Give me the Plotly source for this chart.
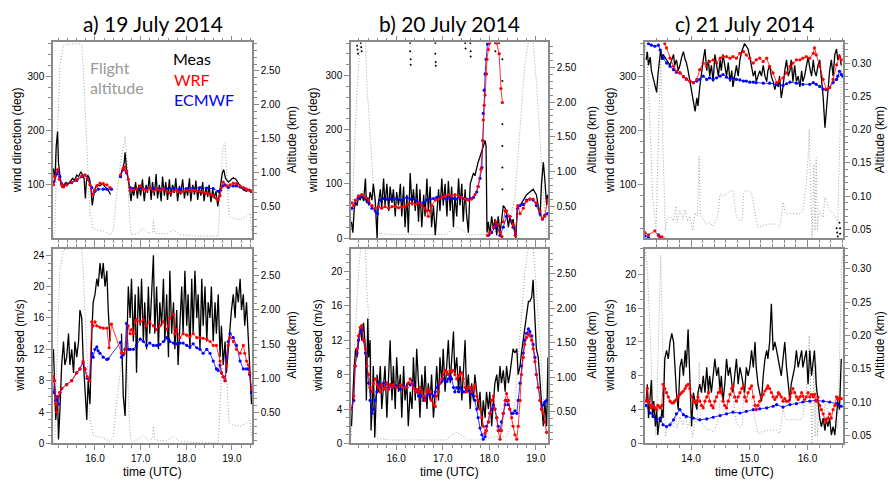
import plotly.graph_objects as go

# ---------------- DATA ----------------
# ---- a) 19 July 2014 ----
A_ALT_T = [15.09,15.12,15.18,15.23,15.31,15.49,15.67,15.71,15.74,15.82,15.89,15.96,16.04,16.18,16.33,16.40,16.47,16.58,16.66,16.71,16.75,16.79,16.91,17.06,17.17,17.26,17.28,17.31,17.57,17.72,17.86,18.30,18.70,18.74,18.80,18.85,18.90,18.94,19.03,19.18,19.32,19.39,19.43]
A_ALT = [0.05,0.15,1.6,2.58,2.88,2.9,2.9,2.88,2.58,1.36,0.39,0.17,0.15,0.13,0.08,0.15,0.64,1.22,1.53,1.12,0.39,0.08,0.09,0.17,0.10,0.12,0.3,0.1,0.09,0.15,0.08,0.06,0.06,0.64,1.36,1.44,0.88,0.35,0.32,0.30,0.35,0.40,0.15]

A_DIR_MEAS_T = [15.09,15.12,15.15,15.18,15.20,15.22,15.25,15.28,15.32,15.36,15.42,15.47,15.51,15.55,15.60,15.64,15.69,15.73,15.76,15.79,15.81,15.84,15.88,15.91,15.94,15.97,16.01,16.05,16.11,16.17,16.23,16.28,16.34,None,
                16.55,16.59,16.64,16.66,16.69,16.73,16.76,16.79,16.82,16.85,16.89,16.93,16.96,17.00,17.04,17.08,17.12,17.15,17.19,17.23,17.26,17.30,17.34,17.37,17.41,17.45,17.48,17.52,17.55,17.59,17.63,17.66,17.70,17.74,17.77,17.81,17.85,17.88,17.92,17.96,17.99,18.03,18.07,18.10,18.14,18.18,18.21,18.25,18.28,18.32,18.36,18.39,18.43,18.47,18.50,18.54,18.58,18.61,18.65,18.69,18.72,18.75,18.79,18.82,18.86,18.92,18.98,19.03,19.09,19.15,19.20,19.26,19.32,19.38,19.42]
A_DIR_MEAS = [130,105,170,198,140,125,105,95,100,104,102,108,112,108,118,115,124,118,112,75,105,118,112,95,62,80,95,100,98,102,95,92,82,None,
              115,125,140,160,130,110,90,70,95,80,105,75,100,80,110,70,100,85,115,72,105,80,120,75,100,70,115,80,105,72,110,78,100,85,112,70,98,82,110,75,95,80,112,70,100,82,108,72,95,80,105,70,95,78,100,68,92,75,88,60,80,100,122,128,112,105,110,113,110,102,95,90,88,92,85]

A_DIR_WRF_T = [15.09,15.12,15.18,15.22,15.27,15.31,15.38,15.49,15.60,15.71,15.78,15.83,15.89,15.95,15.99,16.04,16.11,16.18,16.26,16.33,None,
               16.56,16.62,16.66,16.69,16.73,16.77,16.84,16.91,16.99,17.06,17.13,17.20,17.28,17.35,17.42,17.50,17.57,17.64,17.72,17.79,17.86,17.93,18.01,18.08,18.15,18.23,18.30,18.37,18.45,18.52,18.59,18.66,18.70,18.74,18.77,18.81,18.88,18.96,19.03,19.10,19.18,19.25,19.32,19.39,19.43]
A_DIR_WRF = [100,115,128,110,100,96,100,105,110,116,118,112,100,82,90,98,103,102,100,95,None,
             118,130,133,125,110,90,90,92,98,92,90,94,88,92,90,92,88,85,88,90,86,88,90,88,90,88,88,86,85,83,80,75,72,80,95,105,98,100,103,102,98,95,92,90,88]

A_DIR_ECM_T = [15.09,15.16,15.20,15.23,15.27,15.31,15.38,15.49,15.60,15.71,15.78,15.85,15.93,16.00,16.07,16.18,16.26,16.36,None,
               16.56,16.62,16.69,16.77,16.84,16.99,17.13,17.28,17.42,17.57,17.72,17.86,18.01,18.15,18.30,18.45,18.59,18.70,18.75,18.80,18.85,18.92,19.03,19.10,19.18,19.28,19.39,19.43]
A_DIR_ECM = [105,120,125,115,102,98,100,104,108,115,118,110,95,88,92,92,92,92,None,
             115,128,122,95,93,95,93,94,92,93,94,92,93,94,95,94,93,88,90,98,100,95,98,98,96,93,90,88]

A_SPD_MEAS_T = [15.09,15.11,15.14,15.18,15.20,15.23,15.27,15.31,15.34,15.38,15.42,15.45,15.49,15.53,15.56,15.60,15.64,15.67,15.71,15.74,15.78,15.82,15.85,15.89,15.93,15.96,16.00,16.04,16.07,16.11,16.15,16.18,16.22,16.26,16.29,16.33,None,
                16.58,16.62,16.66,16.69,16.73,16.77,16.80,16.84,16.88,16.91,16.95,16.99,17.02,17.06,17.09,17.13,17.17,17.20,17.24,17.28,17.31,17.35,17.39,17.42,17.46,17.50,17.53,17.57,17.61,17.64,17.68,17.72,17.75,17.79,17.82,17.86,17.90,17.93,17.97,18.01,18.04,18.08,18.12,18.15,18.19,18.23,18.26,18.30,18.34,18.37,18.41,18.45,18.48,18.52,18.55,18.59,18.63,18.66,18.70,18.74,18.77,18.81,18.85,18.88,18.92,18.96,18.99,19.03,19.07,19.10,19.14,19.18,19.21,19.25,19.28,19.32,19.36,19.39,19.43]
A_SPD_MEAS = [12,8,3,6,0.5,4,10,13,10,11,14,10,12,9,13,11,13,17,16,11,7,3,8,5,14,18,19,21,20,23,21,23,20,22,17,13,None,
              14,6,3.5,12,20,16,21,13,19,9,20,15,21,13,18,12,20,14,19,24,14,20,12,18,15,21,13,19,11,22,14,18,12,17,10,16,20,14,22,15,19,12,21,14,22,16,19,12,21,15,20,13,18,16,20,13,18,14,19,11,15,10,13,9,12,15,17,19,16,20,18,21,17,19,15,18,13,10,5]

A_SPD_WRF_T = [15.09,15.11,15.14,15.16,15.20,15.23,15.27,15.38,15.49,15.60,15.67,15.74,15.78,15.83,15.88,15.93,15.96,16.00,16.04,16.11,16.18,16.26,16.31,16.36,16.58,16.64,16.68,16.73,16.77,16.80,16.84,16.88,16.91,16.99,17.06,17.13,17.20,17.28,17.35,17.42,17.50,17.57,17.61,17.64,17.72,17.75,17.79,17.86,17.93,18.01,18.08,18.15,18.23,18.30,18.37,18.45,18.52,18.59,18.66,18.74,18.77,18.81,18.85,18.88,18.92,18.96,19.03,19.10,19.18,19.25,19.28,19.32,19.36,19.39,19.43]
A_SPD_WRF = [8.5,8,5,4,6,6.5,7,7.5,8,9,9.5,10.5,9.5,8.5,8,15.5,15,15.5,15,14.8,14.7,14.7,12.2,15.2,11.5,11.5,12,15,14,14.5,14,15.5,15.8,15.5,15.8,15,15.5,15,14.5,15,15.5,14.5,15,16,16.5,14,14.5,13.5,14,13.8,13.6,14,13.5,13.5,13.4,13.3,13,12.5,12.5,10.5,9,8.5,8,10,12.5,13.5,13,12,11.5,12.5,11.5,10.5,10,9,7]

A_SPD_ECM_T = [15.09,15.11,15.14,15.18,15.20,15.23,15.27,15.38,15.49,15.60,15.67,15.74,15.78,15.83,15.88,15.93,15.96,16.00,16.04,16.07,16.11,16.18,16.26,16.29,16.56,16.58,16.62,16.66,16.69,16.73,16.77,16.84,16.91,16.99,17.06,17.13,17.20,17.28,17.35,17.42,17.50,17.57,17.61,17.64,17.72,17.79,17.86,17.93,18.01,18.08,18.15,18.23,18.30,18.37,18.45,18.52,18.59,18.66,18.70,18.74,18.77,18.81,18.85,18.88,18.92,18.96,19.03,19.10,19.18,19.25,19.32,19.36,19.39,19.43]
A_SPD_ECM = [6.5,8,5.5,6,5,6.5,7,7.5,8,9,9.5,10.3,9.5,8.3,8,11.5,11,12,12.3,11.8,11.5,11,10.7,10.8,12.9,11,11.3,12,15.3,12,12,12,12.5,13.3,13,12.5,12.8,12.5,12.5,12.6,13,13.5,13.3,13,12.8,12.7,12.8,12.8,12.5,12.3,12.7,12.2,12,11.5,12,11.5,10.5,9.5,9.3,10,9,8.5,8,11,13,14,13.5,12.5,10.5,9.5,9.5,9.5,8.8,6.5]

# ---- b) 20 July 2014 ----
B_ALT_T = [15.04,15.12,15.19,15.24,15.34,15.37,15.48,15.55,15.60,15.87,16.59,17.09,17.16,17.30,17.44,17.51,17.94,18.01,18.37,18.44,18.55,18.66,18.76,18.84,18.94,19.01,19.12,19.19,19.24]
B_ALT = [0.16,1.58,2.52,2.88,2.88,2.29,1.1,0.4,0.11,0.09,0.09,0.09,0.15,0.2,0.15,0.09,0.09,0.13,0.14,0.25,0.63,1.58,2.52,2.88,2.88,2.29,1.1,0.4,0.09]

B_DIR_MEAS_T = [15.04,15.07,15.10,15.13,15.16,15.19,15.23,15.26,15.30,15.34,15.36,15.39,15.41,15.44,15.48,15.51,15.55,15.57,15.59,15.61,15.66,15.69,15.73,15.76,15.80,15.84,15.87,15.91,15.94,15.98,16.01,16.05,16.09,16.12,16.16,16.19,16.23,16.26,16.30,16.34,16.37,16.41,16.44,16.48,16.51,16.55,16.59,16.62,16.66,16.69,16.73,16.76,16.80,16.84,16.87,16.91,16.94,16.98,17.01,17.05,17.09,17.12,17.16,17.19,17.23,17.26,17.30,17.34,17.37,17.41,17.44,17.48,17.51,17.55,17.59,17.62,17.66,17.69,17.73,17.76,17.80,17.84,17.87,17.91,17.93,17.95,17.98,18.01,18.05,18.09,18.12,18.16,18.19,18.23,18.26,18.30,18.34,18.37,18.41,18.44,18.48,18.51,18.55,18.57,18.60,18.66,18.73,18.80,18.87,18.94,19.01,19.05,19.09,19.12,19.16,19.19,19.23,19.25]
B_DIR_MEAS = [30,10,55,65,60,75,70,80,68,110,65,75,60,85,70,100,70,20,0,60,90,55,110,60,100,50,95,65,90,40,85,60,100,40,95,20,80,10,120,60,90,50,100,30,90,20,80,40,110,50,95,20,60,5,40,90,50,110,60,100,40,105,50,95,20,80,40,110,60,100,30,90,45,10,100,110,120,115,130,140,150,160,170,180,170,10,30,5,40,15,35,5,40,10,30,60,55,45,20,40,25,35,10,0,55,60,70,80,85,90,80,60,40,100,140,110,60,80]
B_DIR_MEAS_WRAP_T = [15.16,15.17,15.18,15.24,15.25,15.26,16.30,16.30,16.31,16.31,16.84,16.84,16.85,16.85,17.48,17.49,17.59,17.60,17.60,18.12,18.13,18.21,18.22,18.28,18.28,18.28,18.28,18.28,18.28,18.28]
B_DIR_MEAS_WRAP = [355,348,340,360,352,345,360,345,330,320,360,340,325,318,360,350,360,345,335,360,345,360,340,330,290,250,210,170,130,90]

B_DIR_WRF_T = [15.05,15.09,15.12,15.19,15.26,15.34,15.41,15.48,15.55,15.62,15.69,15.76,15.84,15.91,15.98,16.05,16.12,16.19,16.26,16.34,16.41,16.48,16.55,16.62,16.66,16.69,16.73,16.76,16.84,16.91,16.98,17.05,17.12,17.19,17.26,17.34,17.41,17.48,17.55,17.62,17.69,17.76,17.82,17.86,17.87,17.89,17.91,17.94,17.95,17.98,18.01,None,
               17.96,18.01,18.09,18.14,18.19,18.24,18.27,None,
               18.16,18.21,18.25,18.28,None,
               18.30,18.34,18.37,18.44,18.51,18.56,18.61,18.66,18.73,18.80,18.87,18.94,19.01,19.09,19.14,19.19,19.25]
B_DIR_WRF = [65,60,70,78,80,75,70,60,55,58,55,58,55,58,58,56,57,58,62,65,62,65,60,55,50,40,50,60,70,72,75,77,80,78,80,78,75,72,70,72,80,95,127,180,218,245,264,303,330,348,360,None,
             5,10,20,30,25,10,3,None,
             360,340,276,250,None,
             30,50,50,40,25,5,60,45,55,68,72,72,65,50,35,40,70]

B_DIR_ECM_T = [15.05,15.12,15.19,15.26,15.34,15.41,15.48,15.55,15.60,15.66,15.73,15.80,15.87,15.94,16.01,16.09,16.16,16.23,16.30,16.37,16.44,16.51,16.59,16.66,16.73,16.80,16.87,16.94,17.01,17.09,17.16,17.23,17.30,17.37,17.44,17.51,17.59,17.66,17.73,17.76,17.80,17.84,17.86,17.87,17.89,17.91,17.93,17.96,None,
               17.98,18.05,18.12,18.16,18.23,18.30,18.37,18.44,18.51,18.56,18.61,18.66,18.73,18.80,18.87,18.94,19.01,19.09,19.14,19.19,19.25]
B_DIR_ECM = [55,65,75,77,72,65,55,50,45,70,73,72,72,72,73,70,72,75,72,73,68,65,65,70,72,73,75,75,73,72,75,73,72,75,73,72,73,75,85,95,110,130,180,230,273,303,330,358,None,
             5,10,20,25,5,20,40,40,20,5,55,60,62,70,72,70,60,45,35,42,45]

B_SPD_MEAS_T = [15.04,15.07,15.10,15.13,15.16,15.19,15.23,15.26,15.30,15.34,15.36,15.39,15.41,15.44,15.46,15.49,15.51,15.54,15.56,15.59,
                15.62,15.66,15.69,15.73,15.76,15.80,15.84,15.87,15.91,15.94,15.98,16.01,16.05,16.09,16.12,16.16,16.19,16.23,16.26,16.30,16.34,16.37,16.41,16.44,16.48,16.51,16.55,16.59,16.62,16.66,16.69,16.73,16.76,16.80,16.84,16.87,16.91,16.94,16.98,17.01,17.05,17.09,17.12,17.16,17.19,17.23,17.26,17.30,17.34,17.37,17.41,17.44,17.48,17.51,17.55,17.59,17.62,17.66,17.69,17.73,17.76,17.80,17.84,17.87,17.91,17.94,17.98,18.01,18.05,18.09,18.12,18.16,18.19,18.23,18.26,18.30,18.34,18.37,18.41,18.44,18.48,18.51,18.55,18.59,18.62,18.66,18.69,18.73,18.76,18.80,18.84,18.87,18.91,18.94,18.98,19.01,19.05,19.09,19.12,19.16,19.19,19.23,19.26]
B_SPD_MEAS = [2,6,9,11,10,12,13.5,12,14,11,5,14.5,10,12,1.5,5,9,0.7,4,8,
              6,9,4,7,9,3,8,12,5,9,4,10,6,8,3,9,5,7,2,6,4,10,5,11,7,3,8,5,9,4,7,5,8,3,6,9,5,10,7,11,6,9,12,7,10,13,8,10,6,9,5,8,12,6,8,4,7,5,8,6,4,6,2,5,3,6,4,6,2,5,7,8,6,9,7,8.5,6,9,7,8,10,11,10.5,11,8,9,10.5,12,13,15,16.5,16.5,17,19,14,11,10,7,4,2,5,2,10]

B_SPD_MOD_T = [15.04,15.09,15.12,15.16,15.19,15.23,15.26,15.30,15.34,15.37,15.41,15.44,15.48,15.51,15.55,15.59,15.62,15.66,15.69,15.73,15.76,15.80,15.84,15.87,15.91,15.94,16.01,16.09,16.16,16.23,16.26,16.30,16.34,16.37,16.41,16.44,16.48,16.51,16.55,16.59,16.62,16.66,16.69,16.73,16.76,16.80,16.84,16.87,16.91,16.94,16.98,17.01,17.05,17.09,17.12,17.16,17.19,17.23,17.26,17.30,17.34,17.37,17.41,17.44,17.48,17.51,17.55,17.59,17.62,17.66,17.69,17.73,17.76,17.80,17.84,17.87,17.91,17.94,17.98,18.01,18.05,18.09,18.12,18.16,18.19,18.23,18.26,18.30,18.34,18.37,18.41,18.44,18.48,18.51,18.55,18.59,18.62,18.66,18.69,18.73,18.76,18.80,18.84,18.87,18.91,18.94,18.98,19.01,19.05,19.09,19.12,19.16,19.19,19.23]
B_SPD_WRF = [4,5.5,9,11,12.5,13.5,13.7,12,11,9,8,6.5,6,7,7.5,6.8,6.5,6,6.8,6.3,6.5,7,6.3,6.8,6.5,6.8,6.5,6.8,6.5,6.5,7,7.5,7,6.5,6,6.3,6,6.5,6,5.5,5,6,6.3,6,5,4.5,4.3,5.5,6,7,7.5,8,8.5,8.3,8,8.5,8.3,8.5,8,7.5,7.8,8,8.2,7.5,6.5,6,6.5,6.5,6,6.5,6.8,5.5,5,4,3,2,1.2,1.5,2.5,3.5,5,5.5,4,3,1.5,0.5,1.5,3.5,5,5.8,5,4,3,2,1,0.5,2,5,8,10,11.5,12.3,12.7,12.5,12,11,9.5,8,6.5,5,4,3.5,2.5,1.3]
B_SPD_ECM = [4,5,9,10.5,12,13,13.3,12,10.5,9,7,5,3.5,4,5,6,7,6.5,6.8,7,6.5,7,6.5,6.8,6.6,6.5,6.7,6.3,6.7,6.5,7,6.8,7.3,6.8,6.3,6,5.5,6,5.5,5,5.2,5.5,5.8,6,5.8,5.5,6,6.5,6.8,7,7.2,7.5,7.3,7.2,7.5,7.8,7.5,6.5,6,6.5,6,6.5,6.2,6,6,6.2,6.1,6,5.8,5.5,5,4,3,1.8,1,0.5,0.8,2,2.5,3.5,4,4.5,4,3,2,1.5,2.5,3.5,4.5,5,4.5,4,3.5,3.5,3.8,3.5,5,7,9,10.5,12,12.8,13.3,13,12.5,11.5,10,8,6.5,5,4,4.5,4.8,5]

# ---- c) 21 July 2014 ----
C_ALT_T = [13.21,13.25,13.30,13.34,13.40,13.43,13.46,13.48,13.51,13.54,13.56,13.59,13.64,13.70,13.74,13.76,13.81,13.86,13.90,13.94,13.98,14.03,14.07,14.11,14.14,14.16,14.21,14.27,14.32,14.38,14.44,14.47,14.50,14.55,14.61,14.67,14.72,14.75,14.78,14.84,14.88,14.90,14.93,14.98,15.04,15.09,15.12,15.15,15.24,15.35,15.47,15.52,15.55,15.58,15.61,15.64,15.75,15.87,15.92,15.95,15.98,16.01,16.03,16.04,16.07,16.08,16.11,16.13,16.15,16.17,16.20,16.27,16.30,16.38,16.47,16.52,16.56,16.59,16.61]
C_ALT = [0.33,0.30,0.20,0.10,0.05,0.15,0.28,0.32,0.20,0.08,0.048,0.065,0.07,0.063,0.085,0.06,0.078,0.065,0.08,0.062,0.07,0.048,0.075,0.07,0.16,0.075,0.065,0.058,0.06,0.055,0.065,0.078,0.103,0.10,0.103,0.108,0.108,0.09,0.068,0.063,0.065,0.103,0.108,0.108,0.105,0.078,0.063,0.053,0.056,0.058,0.058,0.053,0.068,0.091,0.078,0.073,0.074,0.073,0.078,0.098,0.118,0.158,0.20,0.158,0.085,0.035,0.148,0.048,0.158,0.048,0.078,0.068,0.098,0.08,0.07,0.06,0.2,0.31,0.33]

C_MEAS_T = [13.23,13.25,13.27,13.30,13.32,13.34,13.36,13.39,13.41,13.43,13.46,13.48,13.50,13.52,
            13.55,13.58,13.61,13.64,13.67,13.70,13.72,13.75,13.78,13.81,13.84,13.87,13.90,13.92,13.95,13.98,14.01,14.04,14.07,14.10,14.12,14.15,14.18,14.21,14.24,14.27,14.30,14.32,14.35,14.38,14.41,14.44,14.47,14.50,14.52,14.55,14.58,14.61,14.64,14.67,14.70,14.72,14.75,14.78,14.81,14.84,14.87,14.90,14.92,14.95,14.98,15.01,15.04,15.07,15.10,15.12,15.15,15.18,15.21,15.24,15.27,15.30,15.32,15.35,15.38,15.41,15.44,15.47,15.50,15.52,15.55,15.58,15.61,15.64,15.67,15.70,15.72,15.75,15.78,15.81,15.84,15.87,15.90,15.92,15.95,15.98,16.01,16.04,16.07,16.10,16.12,16.15,16.18,16.21,16.24,16.27,16.30,16.32,16.35,16.38,16.41,16.44,16.47,16.50,16.52,16.55,16.58]
C_DIR_MEAS = [330,345,320,335,310,300,290,280,270,300,340,350,330,340,
              335,330,325,320,330,340,320,330,310,320,335,345,330,325,310,290,270,250,235,260,245,280,310,330,350,310,330,300,320,290,340,320,300,330,310,340,320,300,325,290,310,280,300,320,300,330,345,355,360,355,350,335,320,300,310,290,300,310,300,320,300,290,310,320,300,290,275,290,280,300,260,280,310,330,300,310,330,290,320,290,300,280,310,290,300,320,335,315,300,330,310,300,320,330,300,260,205,230,270,310,330,300,340,350,330,340,320]
C_DIR_MEAS_WRAP_T = [16.50,16.51,16.52,16.55,16.56,16.56]
C_DIR_MEAS_WRAP = [20,12,5,30,20,10]
C_SPD_MEAS = [5,7,3,6,7.5,3,5,2,4,1,3,2.5,4,3,
              10,11,10,12,13,12,9,6,4,9,10,8,11,9,13.5,8,2,6,5,4,6,7,6,8,6,9,6,8,6,8,10,8,9,6,8,5,7,10,8,9,7,6,8,10,7,9,8,7,6,9,8,9,11,9,12,9,7,6,5,8,10,11,10,12,16.5,11,12,11,10,9,8,10,12,9,7,5,7,8,9,11,9,10,11,9,10,11,7,11,8,10,11,7,5,3,2,3,1.5,3,2,3,1,2,1,4,5,4,10]

C_DIR_WRF_T = [13.21,13.27,13.38,13.44,13.50,13.55,None,
               13.55,13.58,13.64,13.70,13.75,13.81,13.87,13.92,13.98,14.04,14.10,14.15,14.21,14.27,14.32,14.38,14.44,14.50,14.55,14.61,14.67,14.72,14.78,14.84,14.90,14.95,15.01,15.07,15.12,15.18,15.24,15.30,15.35,15.41,15.47,15.52,15.58,15.64,15.70,15.75,15.81,15.87,15.92,15.98,16.04,16.10,16.12,16.15,16.21,16.27,16.32,16.38,16.44,16.50,16.55,16.58]
C_DIR_WRF = [12,8,15,6,4,0,None,
             360,352,333,318,309,306,299,294,291,288,294,312,324,318,327,330,324,333,336,336,333,336,333,342,345,339,333,324,330,333,327,333,318,306,288,291,297,306,318,324,330,330,333,336,333,342,352,339,318,294,276,279,294,321,336,330]

C_DIR_ECM_T = [13.21,13.27,None,13.44,13.47,None,
               13.27,13.32,13.38,13.44,13.47,13.52,13.58,13.64,13.70,13.75,13.81,13.87,13.92,13.98,14.04,14.10,14.15,14.21,14.27,14.32,14.38,14.44,14.50,14.55,14.61,14.67,14.72,14.78,14.84,14.90,14.95,15.01,15.07,15.12,15.24,15.35,15.47,15.58,15.64,15.70,15.81,15.92,16.04,16.10,16.15,16.21,16.27,16.32,16.38,16.44,16.50,16.52,16.55,16.58,16.61]
C_DIR_ECM = [6,3,None,8,4,None,
             360,357,355,357,348,333,324,318,312,307,306,299,295,291,288,291,294,300,294,297,294,297,300,303,298,295,296,294,293,291,291,289,289,288,287,287,285,283,286,289,287,285,285,288,285,281,276,275,279,288,294,300,309,303,300]

C_SPD_WRF = [5,6.5,5,4.5,4.2,4.5,4.3,4.2,4,4.5,4.3,4.2,4.5,7,
             6.5,6,5.5,5,4.8,4.8,5,5.2,5.5,5.8,6,6.2,6.5,6.8,7,6.5,5.5,5,4.8,5,5.5,5,4.5,4.2,5,5.5,6,5,4.5,4.2,5,5.5,6,6.5,6,5,4.5,4.2,5,5.8,6.5,6.8,5.5,5,5.5,6,6.5,6.8,5.5,5,6,6.5,6.8,5.5,4.5,4,4.5,5,5.5,5.8,6.2,6.5,6.8,6.5,6,5.5,5.2,5.5,6,5.8,5.5,5,5.3,5,5,5.5,6,6.5,6,5.5,5.2,5.5,6,5.6,5.2,5.5,6,5.5,5.8,5.5,5.8,5,5.5,4.5,4,3.5,2.8,2.5,3,3.5,3,4,4.5,5.5,5.2,5.4,5.3]

C_SPD_ECM_T = [13.23,13.30,13.35,13.41,13.47,13.52,13.58,13.64,13.70,13.75,13.81,13.87,13.92,14.04,14.15,14.27,14.38,14.50,14.61,14.72,14.84,14.95,15.07,15.18,15.30,15.41,15.47,15.58,15.70,15.81,15.92,16.04,16.15,16.27,16.38,16.50,16.58]
C_SPD_ECM = [4.5,3.6,3.2,2.8,3.0,2.2,2.0,2.2,2.8,3.5,4.0,3.4,3.2,3.0,2.8,2.9,3.1,3.3,3.5,3.7,3.6,3.8,4.0,4.1,4.2,4.4,4.6,4.3,4.6,4.7,4.9,5.0,5.1,5.0,4.9,4.7,4.4]

TITLES = ["a) 19 July 2014", "b) 20 July 2014", "c) 21 July 2014"]

# ---------------- FIGURE ----------------
W, H = 888, 487
FRAME = "#8a8a8a"
ALTC = "#a3a3a3"
TICKFONT = dict(family="Liberation Sans, Arial, sans-serif", size=10, color="black")
LABFONT = dict(family="Liberation Sans, Arial, sans-serif", size=12, color="black")
TITFONT = dict(family="Lato, Open Sans, sans-serif", size=21, color="black")

COLS = [(53, 252), (351, 548), (645, 843)]
ROWS = [(43, 241), (252, 449)]

def px_x(p):
    return p / W

def px_y(p):
    return 1 - p / H

fig = go.Figure()

panels = [
    dict(k=1, col=0, row=0, xr=[15.08, 19.44], ar=[0.03, 2.92], wr=[2, 362], adt=0.5, amin=0.1, wdt=100, wmin=20,
         alt=(A_ALT_T, A_ALT), meas=(A_DIR_MEAS_T, A_DIR_MEAS), wrap=None, wrf=(A_DIR_WRF_T, A_DIR_WRF), ecm=(A_DIR_ECM_T, A_DIR_ECM)),
    dict(k=2, col=1, row=0, xr=[15.03, 19.26], ar=[0.04, 2.86], wr=[0, 361], adt=0.5, amin=0.1, wdt=100, wmin=20,
         alt=(B_ALT_T, B_ALT), meas=(B_DIR_MEAS_T, B_DIR_MEAS), wrap=(B_DIR_MEAS_WRAP_T, B_DIR_MEAS_WRAP), wrf=(B_DIR_WRF_T, B_DIR_WRF), ecm=(B_DIR_ECM_T, B_DIR_ECM)),
    dict(k=3, col=2, row=0, xr=[13.21, 16.61], ar=[0.037, 0.331], wr=[2, 362], adt=0.05, amin=0.01, wdt=100, wmin=20,
         alt=(C_ALT_T, C_ALT), meas=(C_MEAS_T, C_DIR_MEAS), wrap=(C_DIR_MEAS_WRAP_T, C_DIR_MEAS_WRAP), wrf=(C_DIR_WRF_T, C_DIR_WRF), ecm=(C_DIR_ECM_T, C_DIR_ECM)),
    dict(k=4, col=0, row=1, xr=[15.08, 19.44], ar=[0.05, 2.89], wr=[0, 24.8], adt=0.5, amin=0.1, wdt=4, wmin=1,
         alt=(A_ALT_T, A_ALT), meas=(A_SPD_MEAS_T, A_SPD_MEAS), wrap=None, wrf=(A_SPD_WRF_T, A_SPD_WRF), ecm=(A_SPD_ECM_T, A_SPD_ECM)),
    dict(k=5, col=1, row=1, xr=[15.03, 19.26], ar=[0.04, 2.86], wr=[0, 22.6], adt=0.5, amin=0.1, wdt=4, wmin=1,
         alt=(B_ALT_T, B_ALT), meas=(B_SPD_MEAS_T, B_SPD_MEAS), wrap=None, wrf=(B_SPD_MOD_T, B_SPD_WRF), ecm=(B_SPD_MOD_T, B_SPD_ECM)),
    dict(k=6, col=2, row=1, xr=[13.21, 16.61], ar=[0.038, 0.33], wr=[0, 23], adt=0.05, amin=0.01, wdt=4, wmin=1,
         alt=(C_ALT_T, C_ALT), meas=(C_MEAS_T, C_SPD_MEAS), wrap=None, wrf=(C_MEAS_T, C_SPD_WRF), ecm=(C_SPD_ECM_T, C_SPD_ECM)),
]

def nm(prefix, k):
    return prefix if k == 1 else f"{prefix}{k}"

def key(prefix, k):
    return f"{prefix}axis" if k == 1 else f"{prefix}axis{k}"

axis_common = dict(showline=True, linecolor=FRAME, linewidth=1.5, ticks="outside", ticklen=5,
                   tickcolor=FRAME, tickwidth=1, showgrid=False, zeroline=False, tickfont=TICKFONT)

layout_axes = {}
for p in panels:
    k = p["k"]
    xa, ya, wa = nm("x", k), nm("y", k), nm("y", k + 6)
    # flight altitude (base axis, right side)
    fig.add_trace(go.Scatter(x=p["alt"][0], y=p["alt"][1], xaxis=xa, yaxis=ya, mode="lines",
                             line=dict(color=ALTC, width=1, dash="1px,2px"), hoverinfo="skip", showlegend=False))
    # measurements (overlay axis, left side)
    fig.add_trace(go.Scatter(x=p["meas"][0], y=p["meas"][1], xaxis=xa, yaxis=wa, mode="lines",
                             line=dict(color="black", width=1.3), showlegend=False, connectgaps=False))
    if p["wrap"] is not None:
        fig.add_trace(go.Scatter(x=p["wrap"][0], y=p["wrap"][1], xaxis=xa, yaxis=wa, mode="markers",
                                 marker=dict(color="black", size=2), showlegend=False))
    fig.add_trace(go.Scatter(x=p["ecm"][0], y=p["ecm"][1], xaxis=xa, yaxis=wa, mode="lines+markers",
                             line=dict(color="#0000ff", width=0.8), marker=dict(color="#0000ff", size=3.2),
                             showlegend=False, connectgaps=False))
    fig.add_trace(go.Scatter(x=p["wrf"][0], y=p["wrf"][1], xaxis=xa, yaxis=wa, mode="lines+markers",
                             line=dict(color="#ff0000", width=0.8), marker=dict(color="#ff0000", size=3.2),
                             showlegend=False, connectgaps=False))

    c0, c1 = COLS[p["col"]]
    r0, r1 = ROWS[p["row"]]
    layout_axes[key("x", k)] = dict(axis_common, domain=[px_x(c0), px_x(c1)], anchor=ya, range=p["xr"],
                                    dtick=1, tick0=0, tickformat=".1f", mirror="ticks",
                                    showticklabels=(p["row"] == 1),
                                    minor=dict(dtick=0.2, ticks="outside", ticklen=3, tickcolor=FRAME))
    layout_axes[key("y", k)] = dict(axis_common, domain=[px_y(r1), px_y(r0)], anchor=xa, side="right",
                                    range=p["ar"], dtick=p["adt"], tick0=0, tickformat=".2f",
                                    minor=dict(dtick=p["amin"], ticks="outside", ticklen=3, tickcolor=FRAME))
    layout_axes[key("y", k + 6)] = dict(axis_common, overlaying=ya, anchor=xa, side="left",
                                        range=p["wr"], dtick=p["wdt"], tick0=0,
                                        minor=dict(dtick=p["wmin"], ticks="outside", ticklen=3, tickcolor=FRAME))

annotations = []
for (c0, c1), t in zip(COLS, TITLES):
    annotations.append(dict(text=t, x=px_x((c0 + c1) / 2), y=px_y(24), xref="paper", yref="paper",
                            showarrow=False, xanchor="center", yanchor="middle", font=TITFONT))
    annotations.append(dict(text="time (UTC)", x=px_x((c0 + c1) / 2), y=px_y(478), xref="paper", yref="paper",
                            showarrow=False, xanchor="center", yanchor="middle", font=LABFONT))

left_lab_x = [(17, 20), (313, 318), (610, 610)]
right_lab_x = [292, 592, 880]
for ci in range(3):
    annotations.append(dict(text="wind direction (deg)", x=px_x(left_lab_x[ci][0]), y=px_y(142), xref="paper", yref="paper",
                            showarrow=False, textangle=-90, xanchor="center", yanchor="middle", font=LABFONT))
    annotations.append(dict(text="wind speed (m/s)", x=px_x(left_lab_x[ci][1]), y=px_y(350), xref="paper", yref="paper",
                            showarrow=False, textangle=-90, xanchor="center", yanchor="middle", font=LABFONT))
    for yc in (142, 350):
        annotations.append(dict(text="Altitude (km)", x=px_x(right_lab_x[ci]), y=px_y(yc), xref="paper", yref="paper",
                                showarrow=False, textangle=-90, xanchor="center", yanchor="middle", font=LABFONT))

LEGFONT = "Lato, Open Sans, sans-serif"
for txt, xx, yy, col in [("Flight", 88, 68, "#999999"), ("altitude", 88, 89, "#999999"),
                         ("Meas", 171, 59, "black"), ("WRF", 172, 80, "#ff0000"), ("ECMWF", 172, 101, "#0000ff")]:
    annotations.append(dict(text=txt, x=px_x(xx), y=px_y(yy), xref="paper", yref="paper", showarrow=False,
                            xanchor="left", yanchor="middle", font=dict(family=LEGFONT, size=16, color=col)))

fig.update_layout(width=W, height=H, margin=dict(l=0, r=0, t=0, b=0), autosize=False,
                  paper_bgcolor="white", plot_bgcolor="white", showlegend=False,
                  annotations=annotations, **layout_axes)

fig.write_html("out.html")
